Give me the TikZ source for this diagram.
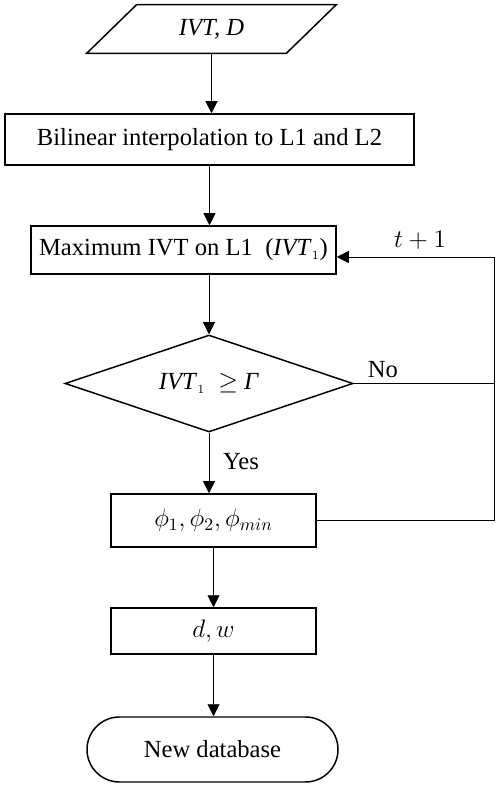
\documentclass[tikz,border=0pt]{standalone}
\usepackage{fontspec}
\setmainfont{Liberation Serif}
\usepackage{tikz}
\usetikzlibrary{arrows.meta,positioning,shapes.geometric,shapes.misc}

\begin{document}
\begin{tikzpicture}[x=1cm,y=1cm,font=\fontsize{14}{17}\selectfont,
    box/.style={draw=black,line width=0.85pt,inner sep=0pt,align=center},
    flow/.style={line width=0.55pt,-{Triangle[length=2.4mm,width=2.4mm]}},
    wire/.style={line width=0.55pt}]
  \useasboundingbox (0,0) rectangle (10,15.76);

  % input parallelogram
  \node[inner sep=0pt,minimum width=3.98cm,minimum height=0.96cm] (input)
    at (4.23,15.18) {\textit{IVT, D}};
  \draw[line width=0.85pt] ([xshift=0.5cm]input.north west)
    -- ([xshift=0.5cm]input.north east) -- ([xshift=-0.5cm]input.south east)
    -- ([xshift=-0.5cm]input.south west) -- cycle;

  \node[box,minimum width=8.18cm,minimum height=1.02cm] (interp) at (4.19,12.97)
    {Bilinear interpolation to L1 and L2};
  \node[box,minimum width=6.10cm,minimum height=0.96cm] (maxivt) at (3.67,10.76)
    {Maximum IVT on L1~~(\textit{IVT}$_{\scriptscriptstyle 1}$)};
  \node[box,diamond,aspect=3,minimum width=5.76cm,minimum height=1.94cm] (check)
    at (4.18,8.09) {\textit{IVT}$_{\scriptscriptstyle 1}\ \geq\ $\textit{Γ}};
  \node[box,minimum width=4.10cm,minimum height=1.06cm] (phis) at (4.27,5.35)
    {$\phi_1, \phi_2, \phi_{min}$};
  \node[box,minimum width=4.10cm,minimum height=0.92cm] (dw) at (4.27,3.14)
    {$d, w$};
  \node[box,rounded rectangle,minimum width=5.02cm,minimum height=1.30cm] (newdb)
    at (4.25,0.77) {New database};

  \coordinate (loop) at (9.88,0);
  \node (tinc) at (8.40,10.96) {$t + 1$};
  \node (no) at (7.66,8.36) {No};
  \node (yes) at (4.82,6.52) {Yes};

  \draw[flow] (input.south) -- (input.south |- interp.north);
  \draw[flow] (interp.south) -- (interp.south |- maxivt.north);
  \draw[flow] (check.north |- maxivt.south) -- (check.north);
  \draw[flow] (check.south) -- (check.south |- phis.north);
  \draw[flow] (phis.south) -- (dw.north);
  \draw[flow] (dw.south) -- (dw.south |- newdb.north);
  \draw[wire] (check.east) -- (check.east -| loop);
  \draw[flow] (phis.east) -- (phis.east -| loop)
    -- ([yshift=-0.14cm]maxivt.east -| loop) -- ([yshift=-0.14cm]maxivt.east);
\end{tikzpicture}
\end{document}
